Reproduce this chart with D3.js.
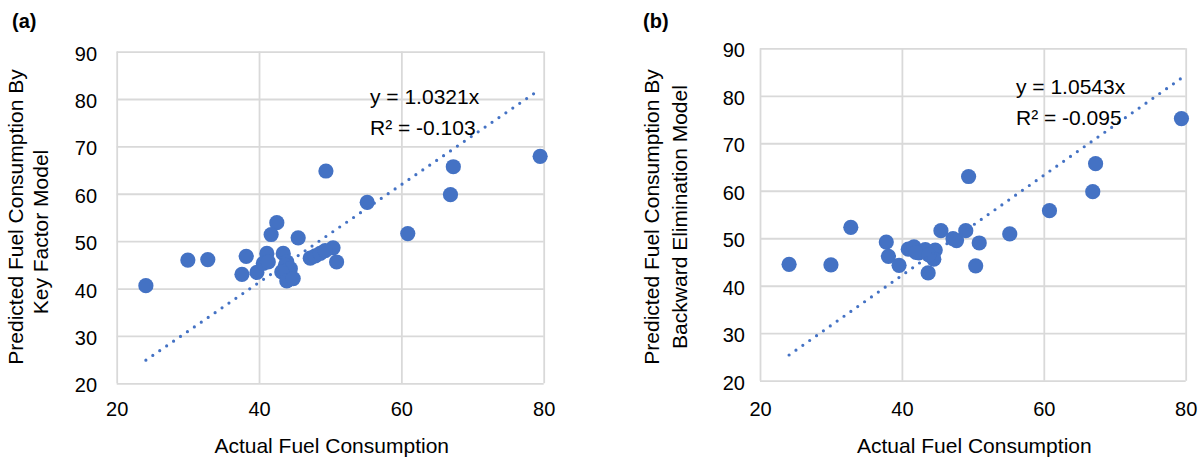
<!DOCTYPE html>
<html>
<head>
<meta charset="utf-8">
<script src="https://cdn.jsdelivr.net/npm/d3@7"></script>
<style>
  body { margin: 0; background: #fff; }
  svg text { font-family: "Liberation Sans", Arial, Helvetica, sans-serif; fill: #000; }
</style>
</head>
<body>
<svg id="chart" width="1203" height="459"></svg>
<script>
// Axis ticks shared by both panels
const xTicks = [20, 40, 60, 80];
const yTicks = [20, 30, 40, 50, 60, 70, 80, 90];

// (a) Key factor model: actual vs predicted fuel consumption
const actualA    = [24.1, 30.0, 32.8, 38.2, 37.6, 39.7, 42.5, 41.7, 45.5, 49.4, 55.2, 60.9, 67.3, 66.9, 79.5,
                    50.9, 50.4, 47.2, 47.9, 48.6, 49.3, 41.1, 40.6, 41.3, 43.4, 43.9, 43.7, 44.4, 43.2, 43.9, 44.8];
const predictedA = [40.6, 46.0, 46.1, 46.8, 43.0, 43.4, 53.9, 51.4, 50.7, 64.8, 58.2, 51.6, 65.7, 59.8, 67.9,
                    45.6, 48.6, 46.4, 46.9, 47.4, 48.0, 47.4, 45.3, 45.6, 47.4, 45.6, 44.9, 44.2, 43.5, 41.6, 42.1];
const slopeA = 1.0321;
const r2A = "-0.103";

// (b) Backward elimination model: actual vs predicted fuel consumption
const actualB    = [24.1, 30.0, 32.8, 37.8, 38.1, 39.6, 40.9, 41.7, 42.4, 43.3, 44.7, 44.5, 43.7, 45.5, 47.2,
                    47.7, 49.0, 49.4, 50.9, 50.4, 55.2, 60.8, 67.3, 66.9, 79.4, 42.0, 43.8];
const predictedB = [44.5, 44.4, 52.3, 49.2, 46.2, 44.3, 47.7, 48.2, 46.9, 47.6, 47.5, 45.6, 42.7, 51.6, 49.9,
                    49.5, 51.6, 63.0, 49.0, 44.2, 50.9, 55.8, 65.7, 59.8, 75.2, 47.0, 46.5];
const slopeB = 1.0543;
const r2B = "-0.095";

const BLUE = "#4472C4";
const GRID = "#d9d9d9";
const svg = d3.select("#chart");

const panels = [
  {
    tag: "(a)", tagX: 12, tagY: 28,
    actual: actualA, predicted: predictedA, slope: slopeA, r2: r2A,
    left: 116.7, right: 543.7, top: 51.6, bottom: 383.3,
    yPad: 19.7,
    yTitle: [
      { text: "Predicted Fuel Consumption By", x: 23, y: 217 },
      { text: "Key Factor Model", x: 48, y: 232 }
    ],
    eqX: 370, eqY: 104
  },
  {
    tag: "(b)", tagX: 643, tagY: 28,
    actual: actualB, predicted: predictedB, slope: slopeB, r2: r2B,
    left: 760, right: 1185.7, top: 48.3, bottom: 380.7,
    yPad: 15,
    yTitle: [
      { text: "Predicted Fuel Consumption By", x: 659, y: 217 },
      { text: "Backward Elimination Model", x: 687, y: 217 }
    ],
    eqX: 1016, eqY: 93.5
  }
];

panels.forEach(p => {
  const x = d3.scaleLinear().domain([20, 80]).range([p.left, p.right]);
  const y = d3.scaleLinear().domain([20, 90]).range([p.bottom, p.top]);
  const g = svg.append("g");

  // vertical gridlines + x tick labels
  const xAxis = g.append("g")
    .attr("transform", `translate(0,${p.bottom})`)
    .call(d3.axisBottom(x).tickValues(xTicks)
      .tickSize(-(p.bottom - p.top))
      .tickPadding(416.5 - p.bottom - 14.2));
  // horizontal gridlines + y tick labels
  const yAxis = g.append("g")
    .attr("transform", `translate(${p.left},0)`)
    .call(d3.axisLeft(y).tickValues(yTicks)
      .tickSize(-(p.right - p.left))
      .tickPadding(p.yPad));

  [xAxis, yAxis].forEach(ax => {
    ax.select(".domain").remove();
    ax.selectAll(".tick line").attr("stroke", GRID).attr("stroke-width", 1.8);
    ax.selectAll(".tick text").attr("font-size", 20).attr("fill", "#000")
      .attr("font-family", '"Liberation Sans", Arial, sans-serif');
  });
  yAxis.selectAll(".tick text").attr("dy", "0.43em");

  // data points
  g.append("g").selectAll("circle")
    .data(p.actual.map((a, i) => [a, p.predicted[i]]))
    .join("circle")
    .attr("cx", d => x(d[0]))
    .attr("cy", d => y(d[1]))
    .attr("r", 7.6)
    .attr("fill", BLUE);

  // linear trendline through the origin, spanning the data range
  const ext = d3.extent(p.actual);
  g.append("path")
    .datum(ext.map(v => [v, p.slope * v]))
    .attr("d", d3.line().x(d => x(d[0])).y(d => y(d[1])))
    .attr("fill", "none")
    .attr("stroke", BLUE)
    .attr("stroke-width", 3.2)
    .attr("stroke-linecap", "round")
    .attr("stroke-dasharray", "0 8.4");

  // trendline equation
  const eq = g.append("text").attr("font-size", 21);
  eq.append("tspan").attr("x", p.eqX).attr("y", p.eqY).text(`y = ${p.slope.toFixed(4)}x`);
  eq.append("tspan").attr("x", p.eqX).attr("y", p.eqY + 31).text(`R² = ${p.r2}`);

  // axis titles
  g.append("text")
    .attr("x", (p.left + p.right) / 2 + 1.5)
    .attr("y", 453)
    .attr("text-anchor", "middle")
    .attr("font-size", 21)
    .text("Actual Fuel Consumption");

  p.yTitle.forEach(t => {
    g.append("text")
      .attr("transform", `translate(${t.x},${t.y}) rotate(-90)`)
      .attr("text-anchor", "middle")
      .attr("font-size", 21)
      .text(t.text);
  });

  // panel tag
  g.append("text")
    .attr("x", p.tagX).attr("y", p.tagY)
    .attr("font-size", 20)
    .attr("font-weight", "bold")
    .text(p.tag);
});
</script>
</body>
</html>
